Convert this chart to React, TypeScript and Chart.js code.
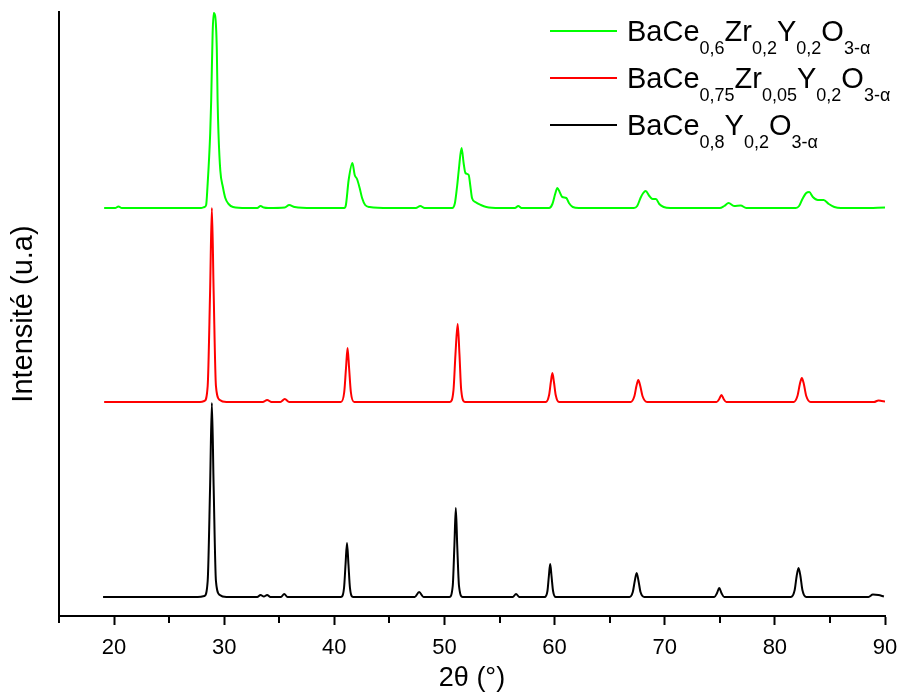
import { useEffect, useRef } from 'react';
import { Chart, registerables } from 'chart.js';

Chart.register(...registerables);

const FONT = '"Liberation Sans", Arial, Helvetica, sans-serif';

// ---- Data (2θ in degrees, intensity in arbitrary units, offset per pattern) ----
const blackPattern: [number, number][] = [
  [19.0, 19], [25.0, 19], [27.6, 19], [28.2, 20], [28.5, 35], [28.72, 130],
  [28.88, 213], [29.04, 130], [29.25, 35], [29.6, 21], [30.2, 19], [33.0, 19], [33.3, 21],
  [33.6, 19.5], [33.9, 21], [34.2, 19], [35.15, 19], [35.45, 22], [35.75, 19], [38.0, 19], [40.6, 19],
  [40.88, 28], [41.02, 52], [41.15, 73], [41.28, 52], [41.42, 28], [41.7, 19], [44.5, 19], [47.3, 19],
  [47.7, 24], [48.1, 19], [50.45, 19], [50.75, 30], [50.9, 70], [51.03, 108], [51.16, 70], [51.32, 30],
  [51.65, 19], [54.0, 19], [56.2, 19], [56.5, 22], [56.8, 19], [59.1, 19], [59.35, 25], [59.48, 40],
  [59.6, 52], [59.72, 40], [59.86, 25], [60.1, 19], [63.5, 19], [66.8, 19], [67.1, 24], [67.28, 35],
  [67.45, 43], [67.62, 35], [67.8, 24], [68.15, 19], [71.5, 19], [74.5, 19], [74.75, 23], [74.95, 28],
  [75.15, 23], [75.4, 19], [78.5, 19], [81.45, 19], [81.8, 26], [81.98, 40], [82.15, 48], [82.32, 40],
  [82.5, 26], [82.85, 19], [86.0, 19], [88.5, 19], [88.9, 21.5], [89.4, 21], [89.9, 19.5],
];

const redPattern: [number, number][] = [
  [19.1, 214], [26.0, 214], [27.8, 214], [28.2, 215], [28.5, 230], [28.72, 325],
  [28.88, 408], [29.04, 325], [29.25, 230], [29.6, 216], [30.2, 214], [33.5, 214], [33.9, 216], [34.3, 214],
  [35.1, 214], [35.5, 217], [35.9, 214], [38.0, 214], [40.6, 214], [40.9, 224], [41.06, 248], [41.2, 268],
  [41.34, 248], [41.5, 224], [41.8, 214], [45.0, 214], [50.5, 214], [50.82, 226], [51.0, 262], [51.2, 292],
  [51.36, 262], [51.52, 226], [51.85, 214], [55.0, 214], [59.2, 214], [59.5, 221], [59.66, 234], [59.8, 243],
  [59.94, 234], [60.1, 221], [60.4, 214], [63.5, 214], [66.9, 214], [67.25, 220], [67.43, 230], [67.6, 236],
  [67.78, 230], [67.98, 220], [68.4, 214], [71.5, 214], [74.7, 214], [74.95, 217], [75.15, 221], [75.35, 217],
  [75.6, 214], [78.5, 214], [81.7, 214], [82.05, 220], [82.27, 232], [82.45, 238], [82.63, 232], [82.85, 220],
  [83.25, 214], [86.5, 214], [89.0, 214], [89.4, 215.5], [89.7, 215], [90.0, 214.5],
];

const greenPattern: [number, number][] = [
  [19.1, 408], [20.1, 408], [20.4, 409.5], [20.7, 408], [23.0, 408], [26.0, 408], [27.9, 408], [28.2, 409],
  [28.36, 411], [28.48, 429], [28.73, 483], [28.82, 516], [28.95, 583], [29.05, 603], [29.18, 600], [29.33, 566],
  [29.4, 516], [29.48, 483], [29.65, 445], [29.88, 429], [30.1, 418], [30.4, 412], [30.8, 409], [32.0, 408],
  [33.0, 408], [33.3, 410], [33.6, 408.5], [34.0, 408], [35.5, 408.5], [35.9, 411], [36.4, 409], [38.0, 408],
  [40.9, 408], [41.05, 411], [41.3, 436], [41.64, 453], [41.85, 441], [42.06, 437], [42.3, 428], [42.52, 418],
  [42.8, 411], [43.2, 409], [45.0, 408], [47.4, 408], [47.8, 410], [48.2, 408], [50.7, 408], [50.95, 413],
  [51.15, 430], [51.3, 446], [51.55, 468], [51.75, 452], [51.9, 443], [52.2, 441], [52.35, 430], [52.5, 418],
  [52.8, 414], [53.3, 411], [53.8, 409], [55.0, 408], [56.4, 408], [56.7, 410], [57.0, 408], [59.5, 408],
  [59.8, 412], [60.05, 422], [60.25, 428], [60.5, 423], [60.7, 419], [61.06, 418], [61.3, 413], [61.65, 409],
  [62.2, 408], [65.0, 408], [67.2, 408], [67.5, 410], [67.8, 418], [68.05, 423], [68.27, 425], [68.6, 420],
  [68.9, 417], [69.2, 417], [69.5, 412], [69.9, 409], [70.5, 408], [73.0, 408], [75.0, 408], [75.4, 410],
  [75.8, 413], [76.3, 410], [76.9, 410.5], [77.4, 408], [80.0, 408], [81.9, 408], [82.2, 410], [82.5, 417],
  [82.85, 423], [83.12, 424], [83.45, 419], [83.9, 416], [84.43, 416], [84.9, 412], [85.4, 409], [86.0, 408],
  [88.0, 408], [90.0, 408.5],
];

const seriesLabels = ['BaCe0,8Y0,2O3-α', 'BaCe0,75Zr0,05Y0,2O3-α', 'BaCe0,6Zr0,2Y0,2O3-α'];
const seriesColors = ['#000000', '#ff0000', '#00ff00'];

// Legend formulas: [text, isSubscript]
const legendGreen: [string, boolean][] = [['BaCe', false], ['0,6', true], ['Zr', false], ['0,2', true], ['Y', false], ['0,2', true], ['O', false], ['3-α', true]];
const legendRed: [string, boolean][] = [['BaCe', false], ['0,75', true], ['Zr', false], ['0,05', true], ['Y', false], ['0,2', true], ['O', false], ['3-α', true]];
const legendBlack: [string, boolean][] = [['BaCe', false], ['0,8', true], ['Y', false], ['0,2', true], ['O', false], ['3-α', true]];
const legendOrder = [2, 1, 0]; // dataset indexes, top to bottom
const legendFormulas = [legendGreen, legendRed, legendBlack];

const xTickLabels = ['20', '30', '40', '50', '60', '70', '80', '90'];
const minorTickValues = [15, 25, 35, 45, 55, 65, 75, 85];

const xTitle = '2θ (°)';
const yTitle = 'Intensité (u.a)';

const minorTickPlugin = {
  id: 'minorTicks',
  afterDraw(chart: any) {
    const ctx = chart.ctx;
    const xs = chart.scales.x;
    const y0 = chart.chartArea.bottom;
    ctx.save();
    ctx.strokeStyle = '#000';
    ctx.lineWidth = 2;
    for (const v of minorTickValues) {
      const px = Math.round(xs.getPixelForValue(v));
      ctx.beginPath();
      ctx.moveTo(px, y0);
      ctx.lineTo(px, y0 + 7);
      ctx.stroke();
    }
    ctx.restore();
  },
};

const formulaLegendPlugin = {
  id: 'formulaLegend',
  afterDraw(chart: any) {
    const ctx = chart.ctx;
    ctx.save();
    legendOrder.forEach((dsIndex, row) => {
      const ds = chart.data.datasets[dsIndex];
      const lineY = 31 + row * 47;
      ctx.strokeStyle = ds.borderColor;
      ctx.lineWidth = 2;
      ctx.beginPath();
      ctx.moveTo(550, lineY);
      ctx.lineTo(617, lineY);
      ctx.stroke();
      const baseY = lineY + 9.5;
      let x = 627;
      ctx.fillStyle = '#000';
      ctx.textBaseline = 'alphabetic';
      ctx.textAlign = 'left';
      for (const [text, sub] of legendFormulas[row]) {
        ctx.font = sub ? `18px ${FONT}` : `29px ${FONT}`;
        ctx.fillText(text, x, sub ? baseY + 13 : baseY);
        x += ctx.measureText(text).width;
      }
    });
    ctx.restore();
  },
};

export default function App() {
  const canvasRef = useRef<HTMLCanvasElement | null>(null);

  useEffect(() => {
    const canvas = canvasRef.current;
    if (!canvas) return;
    const patterns = [blackPattern, redPattern, greenPattern];
    const chart = new Chart(canvas, {
      type: 'line',
      data: {
        datasets: patterns.map((pts, i) => ({
          label: seriesLabels[i],
          data: pts.map(([x, y]) => ({ x, y })),
          borderColor: seriesColors[i],
          backgroundColor: seriesColors[i],
          borderWidth: 2,
          pointRadius: 0,
          fill: false,
          cubicInterpolationMode: 'monotone' as const,
        })),
      },
      options: {
        responsive: false,
        animation: false,
        events: [],
        layout: { padding: { top: 12, right: 16, left: 0, bottom: 0 } },
        plugins: {
          legend: { display: false },
          tooltip: { enabled: false },
        },
        scales: {
          x: {
            type: 'linear',
            min: 15,
            max: 90,
            afterFit: (s: any) => {
              s.height = 77;
              s.paddingLeft = 0;
              s.paddingRight = 0;
            },
            ticks: {
              stepSize: 5,
              autoSkip: false,
              maxRotation: 0,
              color: '#000',
              padding: 10,
              font: { family: FONT, size: 22 },
              callback: (v: any) => (xTickLabels.includes(String(v)) ? String(v) : ''),
            },
            grid: {
              display: true,
              drawOnChartArea: false,
              drawTicks: true,
              tickLength: 9,
              tickWidth: 2,
              tickColor: (c: any) => (c.tick && xTickLabels.includes(String(c.tick.value)) ? '#000' : 'rgba(0,0,0,0)'),
            },
            border: { display: true, color: '#000', width: 2 },
            title: {
              display: true,
              text: xTitle,
              color: '#000',
              font: { family: FONT, size: 27 },
              padding: { top: 0, bottom: -2 },
            },
          },
          y: {
            type: 'linear',
            min: 0,
            max: 604,
            afterFit: (s: any) => { s.width = 59; },
            ticks: { display: false },
            grid: { display: false, drawTicks: false },
            border: { display: true, color: '#000', width: 2 },
            title: {
              display: true,
              text: yTitle,
              color: '#000',
              font: { family: FONT, size: 29 },
              padding: { top: 7, bottom: 0 },
            },
          },
        },
      },
      plugins: [minorTickPlugin, formulaLegendPlugin],
    });
    return () => chart.destroy();
  }, []);

  return (
    <div style={{ position: 'absolute', left: 0, top: 0, width: 901, height: 693, background: '#fff' }}>
      <canvas ref={canvasRef} width={901} height={693} style={{ display: 'block' }} />
    </div>
  );
}
